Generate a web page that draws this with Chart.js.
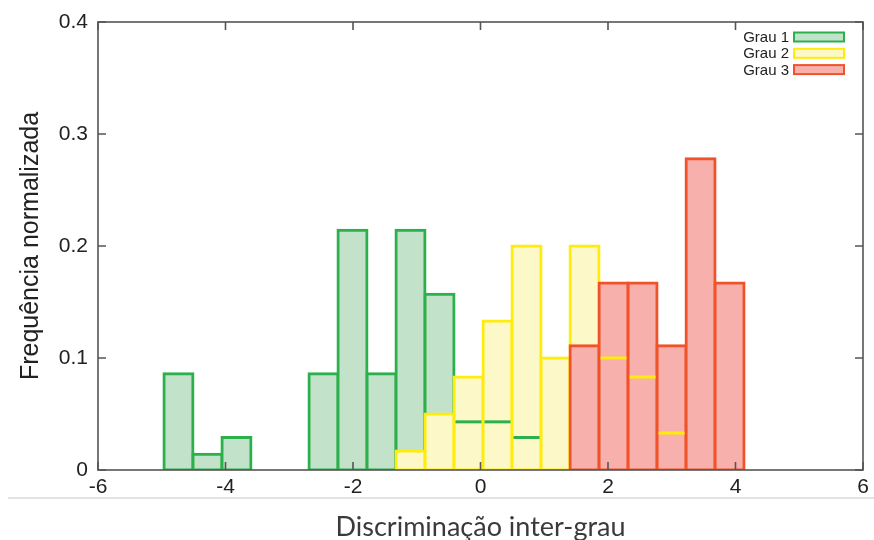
<!DOCTYPE html>
<html>
<head>
<meta charset="utf-8">
<script src="https://cdn.jsdelivr.net/npm/chart.js@4"></script>
<style>
  html, body { margin: 0; padding: 0; background: #fff; }
  #wrap { width: 874px; height: 540px; }
</style>
</head>
<body>
<div id="wrap"><canvas id="histChart" width="874" height="540"></canvas></div>
<script>
// bin centres of the histogram (width 0.455)
const binCenters = [-4.738, -4.283, -3.828, -3.373, -2.918, -2.463, -2.008, -1.553, -1.098, -0.643,
                    -0.188, 0.267, 0.722, 1.177, 1.632, 2.087, 2.542, 2.997, 3.452, 3.907];

// normalised frequency per bin, null = empty bin
const grau1 = [0.086, 0.014, 0.029, null, null, 0.086, 0.214, 0.086, 0.214, 0.157,
               0.043, 0.043, 0.029, null, null, null, null, null, null, null];
const grau2 = [null, null, null, null, null, null, null, null, 0.017, 0.05,
               0.083, 0.133, 0.2, 0.1, 0.2, 0.1, 0.083, 0.033, null, null];
const grau3 = [null, null, null, null, null, null, null, null, null, null,
               null, null, null, null, 0.111, 0.167, 0.167, 0.111, 0.278, 0.167];

const seriesLabels = ["Grau 1", "Grau 2", "Grau 3"];
const xTicks = [-6, -4, -2, 0, 2, 4, 6];
const yTicks = [0, 0.1, 0.2, 0.3, 0.4];

const tickFont = { family: "'Liberation Sans', Arial, sans-serif", size: 21 };

function toPoints(values) {
  return binCenters
    .map((x, i) => ({ x: x, y: values[i] }))
    .filter(p => p.y !== null);
}

// ==============================
// covered bar tops stay visible
// ==============================
const coveredTops = {
  id: "coveredTops",
  afterDatasetsDraw(chart) {
    const ctx = chart.ctx;
    const sets = chart.data.datasets;
    ctx.save();
    sets.forEach((ds, d) => {
      const meta = chart.getDatasetMeta(d);
      meta.data.forEach((bar, i) => {
        const x = ds.data[i].x;
        const y = ds.data[i].y;
        // is a later series taller in the same bin?
        const covered = sets.some((other, o) => o > d &&
          other.data.some(p => Math.abs(p.x - x) < 1e-6 && p.y > y));
        if (!covered) return;
        const half = bar.width / 2 - 1.5;
        ctx.strokeStyle = ds.borderColor;
        ctx.lineWidth = 3;
        ctx.beginPath();
        ctx.moveTo(bar.x - half, bar.y);
        ctx.lineTo(bar.x + half, bar.y);
        ctx.stroke();
      });
    });
    ctx.restore();
  }
};

// ==============================
// gnuplot style frame, inner ticks, legend
// ==============================
const framePlugin = {
  id: "framePlugin",
  afterDraw(chart) {
    const ctx = chart.ctx;
    const a = chart.chartArea;
    const xs = chart.scales.x;
    const ys = chart.scales.y;
    const tl = 8;

    ctx.save();
    ctx.strokeStyle = "#555";
    ctx.lineWidth = 1.6;
    ctx.strokeRect(a.left, a.top, a.right - a.left, a.bottom - a.top);

    ctx.beginPath();
    xTicks.forEach(v => {
      const px = xs.getPixelForValue(v);
      ctx.moveTo(px, a.bottom); ctx.lineTo(px, a.bottom - tl);
      ctx.moveTo(px, a.top); ctx.lineTo(px, a.top + tl);
    });
    yTicks.forEach(v => {
      const py = ys.getPixelForValue(v);
      ctx.moveTo(a.left, py); ctx.lineTo(a.left + tl, py);
      ctx.moveTo(a.right, py); ctx.lineTo(a.right - tl, py);
    });
    ctx.stroke();

    // thin separator under the plot
    ctx.strokeStyle = "#e2e2e2";
    ctx.lineWidth = 2;
    ctx.beginPath();
    ctx.moveTo(8, 498);
    ctx.lineTo(874, 498);
    ctx.stroke();

    // legend: label on the left, key box on the right
    ctx.font = "15px 'Liberation Sans', Arial, sans-serif";
    ctx.textAlign = "right";
    ctx.textBaseline = "middle";
    chart.data.datasets.forEach((ds, i) => {
      const cy = 37 + i * 16.3;
      ctx.fillStyle = "#222";
      ctx.fillText(ds.label, a.right - 74, cy + 1);
      ctx.fillStyle = ds.backgroundColor;
      ctx.fillRect(a.right - 69, cy - 4.5, 50, 9);
      ctx.strokeStyle = ds.borderColor;
      ctx.lineWidth = 2;
      ctx.strokeRect(a.right - 69, cy - 4.5, 50, 9);
    });
    ctx.restore();
  }
};

const barStyle = {
  borderWidth: 3,
  inflateAmount: 1.5,
  borderSkipped: false,
  grouped: false,
  barPercentage: 1,
  categoryPercentage: 1
};

new Chart(document.getElementById("histChart"), {
  type: "bar",
  data: {
    datasets: [
      Object.assign({
        label: seriesLabels[0],
        data: toPoints(grau1),
        backgroundColor: "#c2e2c9",
        borderColor: "#2cb04c",
        order: 3
      }, barStyle),
      Object.assign({
        label: seriesLabels[1],
        data: toPoints(grau2),
        backgroundColor: "#fcf8c8",
        borderColor: "#ffec0a",
        order: 2
      }, barStyle),
      Object.assign({
        label: seriesLabels[2],
        data: toPoints(grau3),
        backgroundColor: "#f7b0ab",
        borderColor: "#f0522a",
        order: 1
      }, barStyle)
    ]
  },
  options: {
    responsive: false,
    animation: false,
    layout: { padding: { top: 22, right: 11, left: 0, bottom: 0 } },
    plugins: {
      legend: { display: false },
      tooltip: { enabled: false }
    },
    scales: {
      x: {
        type: "linear",
        offset: false,
        min: -6,
        max: 6,
        afterFit(scale) { scale.height = 70; },
        afterBuildTicks(scale) { scale.ticks = xTicks.map(v => ({ value: v })); },
        grid: { display: false },
        border: { display: false },
        ticks: { color: "#222", font: tickFont, padding: -3, maxRotation: 0 },
        title: {
          display: true,
          text: "Discriminação inter-grau",
          color: "#3a3a3a",
          font: { family: "Lato, 'Open Sans', sans-serif", size: 27 },
          padding: { top: 0, bottom: -3 }
        }
      },
      y: {
        min: 0,
        max: 0.4,
        afterFit(scale) { scale.width = 98; },
        afterBuildTicks(scale) { scale.ticks = yTicks.map(v => ({ value: v })); },
        grid: { display: false },
        border: { display: false },
        ticks: { color: "#222", font: tickFont, padding: 2 },
        title: {
          display: true,
          text: "Frequência normalizada",
          color: "#222",
          font: { family: "'Liberation Sans', Arial, sans-serif", size: 25 },
          padding: { top: 16, bottom: 0 }
        }
      }
    }
  },
  plugins: [coveredTops, framePlugin]
});
</script>
</body>
</html>
